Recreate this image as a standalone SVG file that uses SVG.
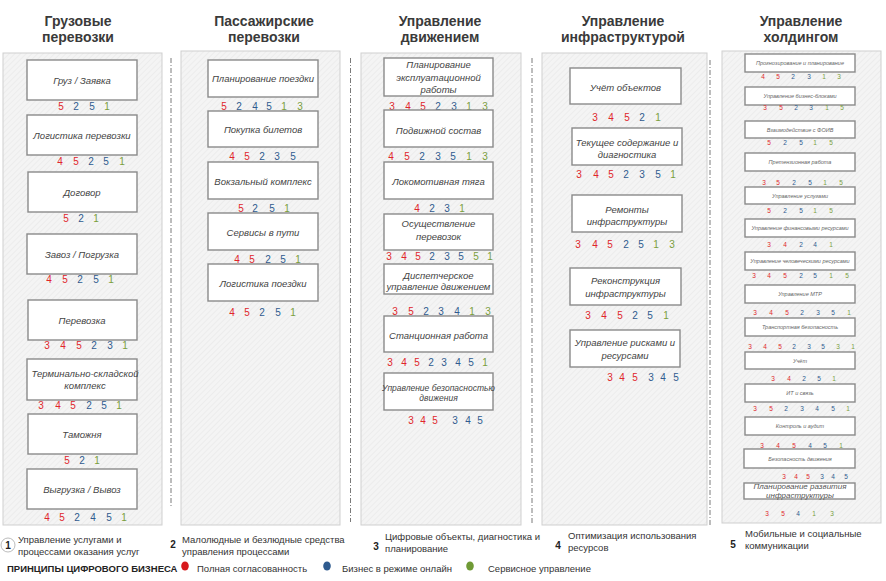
<svg xmlns="http://www.w3.org/2000/svg" width="886" height="581" viewBox="0 0 886 581">
<defs>
<pattern id="hatch" width="4" height="4" patternUnits="userSpaceOnUse" patternTransform="rotate(45)">
<rect width="4" height="4" fill="#f4f4f4"/>
<line x1="0" y1="0" x2="0" y2="4" stroke="#e4e4e4" stroke-width="1"/>
</pattern>
<style>
.panel{fill:url(#hatch);stroke:#cfcfcf;stroke-width:1}
.box{fill:#ffffff;stroke:#8a8a8a;stroke-width:1.4}
.title{font-family:"Liberation Sans",Arial,sans-serif;font-size:14px;font-weight:bold;fill:#3a3a3a;text-anchor:middle}
.lbl{font-family:"Liberation Sans",Arial,sans-serif;font-size:9.5px;font-style:italic;fill:#444;text-anchor:middle}
.lbl5{font-family:"Liberation Sans",Arial,sans-serif;font-size:5.5px;font-style:italic;fill:#666;text-anchor:middle}
.n{font-family:"Liberation Sans",Arial,sans-serif;font-size:10px;text-anchor:middle}
.n5{font-family:"Liberation Sans",Arial,sans-serif;font-size:6.5px;text-anchor:middle}
.r{fill:#e0262b}.b{fill:#2f5b8f}.g{fill:#7a9e3c}
.sep{stroke:#7a7a7a;stroke-width:1;stroke-dasharray:5 2 1 2;fill:none}
.leg{font-family:"Liberation Sans",Arial,sans-serif;font-size:9.5px;fill:#333}
.legn{font-family:"Liberation Sans",Arial,sans-serif;font-size:10px;font-weight:bold;fill:#222}
</style>
</defs>
<rect width="886" height="581" fill="#ffffff"/>

<g id="panels">
<rect class="panel" x="3" y="53" width="159" height="472"/>
<rect class="panel" x="181" y="51" width="159" height="474"/>
<rect class="panel" x="361" y="53" width="160" height="472"/>
<rect class="panel" x="542" y="53" width="165" height="472"/>
<rect class="panel" x="722" y="51" width="159" height="472"/>
</g>

<g id="titles">
<text class="title" x="78" y="26">Грузовые</text><text class="title" x="78" y="42">перевозки</text>
<text class="title" x="264" y="26">Пассажирские</text><text class="title" x="264" y="42">перевозки</text>
<text class="title" x="440" y="26">Управление</text><text class="title" x="440" y="42">движением</text>
<text class="title" x="623" y="26">Управление</text><text class="title" x="623" y="42">инфраструктурой</text>
<text class="title" x="801" y="26">Управление</text><text class="title" x="801" y="42">холдингом</text>
</g>

<g id="connectors">
<line class="sep" x1="171" y1="58" x2="171" y2="508"/>
<line class="sep" x1="350.5" y1="58" x2="350.5" y2="522"/>
<line class="sep" x1="532" y1="58" x2="532" y2="525"/>
<line class="sep" x1="710" y1="60" x2="710" y2="525"/>
</g>

<!-- Column 1 -->
<g id="c1n1"><rect class="box" x="27" y="60" width="110" height="40"/><text class="lbl" x="82" y="84">Груз / Заявка</text>
<text class="n" y="110"><tspan class="r" x="61">5</tspan><tspan class="b" x="76">2</tspan><tspan class="b" x="92">5</tspan><tspan class="g" x="107">1</tspan></text></g>
<g id="c1n2"><rect class="box" x="27" y="115" width="110" height="40"/><text class="lbl" x="82" y="139">Логистика перевозки</text>
<text class="n" y="165"><tspan class="r" x="60">4</tspan><tspan class="r" x="76">5</tspan><tspan class="b" x="91">2</tspan><tspan class="b" x="106">5</tspan><tspan class="g" x="122">1</tspan></text></g>
<g id="c1n3"><rect class="box" x="28" y="172" width="109" height="40"/><text class="lbl" x="82" y="196">Договор</text>
<text class="n" y="222"><tspan class="r" x="66">5</tspan><tspan class="b" x="81">2</tspan><tspan class="g" x="96">1</tspan></text></g>
<g id="c1n4"><rect class="box" x="27" y="234" width="110" height="40"/><text class="lbl" x="82" y="258">Завоз / Погрузка</text>
<text class="n" y="283"><tspan class="r" x="49">4</tspan><tspan class="r" x="65">5</tspan><tspan class="b" x="80">2</tspan><tspan class="b" x="96">5</tspan><tspan class="g" x="111">1</tspan></text></g>
<g id="c1n5"><rect class="box" x="28" y="300" width="109" height="40"/><text class="lbl" x="82" y="324">Перевозка</text>
<text class="n" y="349"><tspan class="r" x="47">3</tspan><tspan class="r" x="63">4</tspan><tspan class="r" x="79">5</tspan><tspan class="b" x="94">2</tspan><tspan class="b" x="110">3</tspan><tspan class="g" x="125">1</tspan></text></g>
<g id="c1n6"><rect class="box" x="27" y="359" width="110" height="41"/><text class="lbl" x="85" y="377">Терминально-складской</text><text class="lbl" x="85" y="389">комплекс</text>
<text class="n" y="409"><tspan class="r" x="41">3</tspan><tspan class="r" x="58">4</tspan><tspan class="r" x="73">5</tspan><tspan class="b" x="89">2</tspan><tspan class="b" x="104">5</tspan><tspan class="g" x="119">1</tspan></text></g>
<g id="c1n7"><rect class="box" x="28" y="414" width="109" height="40"/><text class="lbl" x="82" y="438">Таможня</text>
<text class="n" y="464"><tspan class="r" x="67">5</tspan><tspan class="b" x="82">2</tspan><tspan class="g" x="97">1</tspan></text></g>
<g id="c1n8"><rect class="box" x="27" y="469" width="110" height="40"/><text class="lbl" x="82" y="493">Выгрузка / Вывоз</text>
<text class="n" y="521"><tspan class="r" x="47">4</tspan><tspan class="r" x="62">5</tspan><tspan class="b" x="77">2</tspan><tspan class="b" x="93">4</tspan><tspan class="b" x="109">5</tspan><tspan class="g" x="124">1</tspan></text></g>

<!-- Column 2 -->
<g id="c2n1"><rect class="box" x="208" y="60" width="110" height="37"/><text class="lbl" x="263" y="82">Планирование поездки</text>
<text class="n" y="110"><tspan class="r" x="224">5</tspan><tspan class="b" x="239">2</tspan><tspan class="b" x="255">4</tspan><tspan class="b" x="269">5</tspan><tspan class="g" x="284">1</tspan><tspan class="g" x="300">3</tspan></text></g>
<g id="c2n2"><rect class="box" x="208" y="111" width="110" height="36"/><text class="lbl" x="263" y="133">Покупка билетов</text>
<text class="n" y="160"><tspan class="r" x="232">4</tspan><tspan class="r" x="247">5</tspan><tspan class="b" x="262">2</tspan><tspan class="b" x="277">3</tspan><tspan class="b" x="293">5</tspan></text></g>
<g id="c2n3"><rect class="box" x="208" y="162" width="110" height="37"/><text class="lbl" x="263" y="185">Вокзальный комплекс</text>
<text class="n" y="212"><tspan class="r" x="241">5</tspan><tspan class="b" x="255">2</tspan><tspan class="b" x="272">5</tspan><tspan class="g" x="287">1</tspan></text></g>
<g id="c2n4"><rect class="box" x="208" y="213" width="110" height="37"/><text class="lbl" x="263" y="236">Сервисы в пути</text>
<text class="n" y="263"><tspan class="r" x="237">4</tspan><tspan class="r" x="252">5</tspan><tspan class="b" x="268">2</tspan><tspan class="b" x="283">5</tspan><tspan class="g" x="298">1</tspan></text></g>
<g id="c2n5"><rect class="box" x="208" y="264" width="110" height="37"/><text class="lbl" x="263" y="287">Логистика поездки</text>
<text class="n" y="316"><tspan class="r" x="232">4</tspan><tspan class="r" x="247">5</tspan><tspan class="b" x="262">2</tspan><tspan class="b" x="278">5</tspan><tspan class="g" x="293">1</tspan></text></g>

<!-- Column 3 -->
<g id="c3n1"><rect class="box" x="384" y="58" width="109" height="38"/><text class="lbl" x="438.5" y="68">Планирование</text><text class="lbl" x="438.5" y="81">эксплуатационной</text><text class="lbl" x="438.5" y="93">работы</text>
<text class="n" y="110"><tspan class="r" x="392">3</tspan><tspan class="r" x="408">4</tspan><tspan class="r" x="423">5</tspan><tspan class="b" x="438">2</tspan><tspan class="b" x="454">3</tspan><tspan class="g" x="469">1</tspan><tspan class="g" x="485">3</tspan></text></g>
<g id="c3n2"><rect class="box" x="384" y="110" width="109" height="37"/><text class="lbl" x="438.5" y="134">Подвижной состав</text>
<text class="n" y="160"><tspan class="r" x="391">4</tspan><tspan class="r" x="407">5</tspan><tspan class="b" x="422">2</tspan><tspan class="b" x="438">3</tspan><tspan class="b" x="453">5</tspan><tspan class="g" x="469">1</tspan><tspan class="g" x="485">3</tspan></text></g>
<g id="c3n3"><rect class="box" x="384" y="162" width="109" height="37"/><text class="lbl" x="438.5" y="185">Локомотивная тяга</text>
<text class="n" y="212"><tspan class="r" x="417">4</tspan><tspan class="b" x="432">2</tspan><tspan class="b" x="447">3</tspan><tspan class="g" x="462">1</tspan></text></g>
<g id="c3n4"><rect class="box" x="384" y="214" width="109" height="36"/><text class="lbl" x="438.5" y="227">Осуществление</text><text class="lbl" x="438.5" y="240">перевозок</text>
<text class="n" y="260"><tspan class="r" x="389">3</tspan><tspan class="r" x="404">4</tspan><tspan class="r" x="418">5</tspan><tspan class="b" x="432">2</tspan><tspan class="b" x="447">3</tspan><tspan class="b" x="461">5</tspan><tspan class="g" x="476">5</tspan><tspan class="g" x="490">1</tspan></text></g>
<g id="c3n5"><rect class="box" x="384" y="264" width="109" height="30"/><text class="lbl" x="438.5" y="279">Диспетчерское</text><text class="lbl" x="438.5" y="290">управление движением</text>
<text class="n" y="315"><tspan class="r" x="395">3</tspan><tspan class="r" x="411">5</tspan><tspan class="b" x="426">2</tspan><tspan class="b" x="441">3</tspan><tspan class="b" x="457">4</tspan><tspan class="g" x="472">1</tspan><tspan class="g" x="488">3</tspan></text></g>
<g id="c3n6"><rect class="box" x="384" y="316" width="109" height="36"/><text class="lbl" x="438.5" y="339">Станционная работа</text>
<text class="n" y="366"><tspan class="r" x="390">3</tspan><tspan class="r" x="404">4</tspan><tspan class="r" x="417">5</tspan><tspan class="b" x="431">2</tspan><tspan class="b" x="444">3</tspan><tspan class="b" x="458">4</tspan><tspan class="b" x="471">5</tspan><tspan class="g" x="485">1</tspan></text></g>
<g id="c3n7"><rect class="box" x="384" y="373" width="109" height="37"/><text class="lbl" x="438.5" y="391" style="font-size:8.5px">Управление безопасностью</text><text class="lbl" x="438.5" y="401" style="font-size:8.5px">движения</text>
<text class="n" y="424"><tspan class="r" x="411">3</tspan><tspan class="r" x="423">4</tspan><tspan class="r" x="435">5</tspan><tspan class="b" x="455">3</tspan><tspan class="b" x="468">4</tspan><tspan class="b" x="480">5</tspan></text></g>

<!-- Column 4 -->
<g id="c4n1"><rect class="box" x="570" y="68" width="111" height="36"/><text class="lbl" x="625.5" y="91">Учёт объектов</text>
<text class="n" y="121"><tspan class="r" x="595">3</tspan><tspan class="r" x="611">4</tspan><tspan class="r" x="627">5</tspan><tspan class="b" x="642">2</tspan><tspan class="g" x="658">1</tspan></text></g>
<g id="c4n2"><rect class="box" x="572" y="128" width="110" height="37"/><text class="lbl" x="627" y="146">Текущее содержание и</text><text class="lbl" x="627" y="158">диагностика</text>
<text class="n" y="178"><tspan class="r" x="579">3</tspan><tspan class="r" x="596">4</tspan><tspan class="r" x="611">5</tspan><tspan class="b" x="626">2</tspan><tspan class="b" x="642">3</tspan><tspan class="b" x="658">5</tspan><tspan class="g" x="673">1</tspan></text></g>
<g id="c4n3"><rect class="box" x="572" y="195" width="110" height="37"/><text class="lbl" x="627" y="213">Ремонты</text><text class="lbl" x="627" y="225">инфраструктуры</text>
<text class="n" y="248"><tspan class="r" x="578">3</tspan><tspan class="r" x="595">4</tspan><tspan class="r" x="610">5</tspan><tspan class="b" x="626">2</tspan><tspan class="b" x="641">5</tspan><tspan class="g" x="656">1</tspan><tspan class="g" x="672">3</tspan></text></g>
<g id="c4n4"><rect class="box" x="570" y="268" width="111" height="37"/><text class="lbl" x="625.5" y="284">Реконструкция</text><text class="lbl" x="625.5" y="297">инфраструктуры</text>
<text class="n" y="319"><tspan class="r" x="588">3</tspan><tspan class="r" x="604">4</tspan><tspan class="r" x="620">5</tspan><tspan class="b" x="635">2</tspan><tspan class="b" x="650">5</tspan><tspan class="g" x="666">1</tspan></text></g>
<g id="c4n5"><rect class="box" x="570" y="330" width="110" height="37"/><text class="lbl" x="625" y="346">Управление рисками и</text><text class="lbl" x="625" y="359">ресурсами</text>
<text class="n" y="381"><tspan class="r" x="610">3</tspan><tspan class="r" x="622">4</tspan><tspan class="r" x="635">5</tspan><tspan class="b" x="651">3</tspan><tspan class="b" x="663">4</tspan><tspan class="b" x="676">5</tspan></text></g>

<!-- Column 5 -->
<g id="c5n1"><rect class="box" x="745" y="54" width="110" height="18"/><text class="lbl5" x="800" y="65">Прогнозирование  и  планирование</text>
<text class="n5" y="79"><tspan class="r" x="763">4</tspan><tspan class="r" x="778">5</tspan><tspan class="b" x="793">2</tspan><tspan class="b" x="809">3</tspan><tspan class="g" x="824">1</tspan><tspan class="g" x="839">3</tspan></text></g>
<g id="c5n2"><rect class="box" x="745" y="87" width="110" height="18"/><text class="lbl5" x="800" y="98">Управление  бизнес-блоками</text>
<text class="n5" y="110"><tspan class="r" x="765">3</tspan><tspan class="r" x="781">5</tspan><tspan class="b" x="796">2</tspan><tspan class="b" x="811">3</tspan><tspan class="g" x="827">1</tspan><tspan class="g" x="842">5</tspan></text></g>
<g id="c5n3"><rect class="box" x="745" y="121" width="110" height="17"/><text class="lbl5" x="800" y="131.5">Взаимодействие  с ФОИВ</text>
<text class="n5" y="145"><tspan class="r" x="769">5</tspan><tspan class="b" x="785">2</tspan><tspan class="b" x="801">5</tspan><tspan class="g" x="815">1</tspan><tspan class="g" x="831">5</tspan></text></g>
<g id="c5n4"><rect class="box" x="745" y="153" width="110" height="18"/><text class="lbl5" x="800" y="164">Претензионная  работа</text>
<text class="n5" y="185"><tspan class="r" x="764">3</tspan><tspan class="r" x="778">5</tspan><tspan class="b" x="794">2</tspan><tspan class="b" x="810">5</tspan><tspan class="g" x="825">1</tspan><tspan class="g" x="841">5</tspan></text></g>
<g id="c5n5"><rect class="box" x="745" y="187" width="110" height="17"/><text class="lbl5" x="800" y="197.5">Управление  услугами</text>
<text class="n5" y="213"><tspan class="r" x="769">5</tspan><tspan class="b" x="785">2</tspan><tspan class="b" x="801">5</tspan><tspan class="g" x="815">1</tspan><tspan class="g" x="831">5</tspan></text></g>
<g id="c5n6"><rect class="box" x="745" y="219" width="110" height="18"/><text class="lbl5" x="800" y="230">Управление  финансовыми  ресурсами</text>
<text class="n5" y="247"><tspan class="r" x="769">3</tspan><tspan class="r" x="785">4</tspan><tspan class="b" x="801">2</tspan><tspan class="b" x="815">4</tspan><tspan class="g" x="831">1</tspan></text></g>
<g id="c5n7"><rect class="box" x="745" y="252" width="110" height="18"/><text class="lbl5" x="800" y="263">Управление  человеческими  ресурсами</text>
<text class="n5" y="278"><tspan class="r" x="754">3</tspan><tspan class="r" x="769">4</tspan><tspan class="r" x="785">5</tspan><tspan class="b" x="801">2</tspan><tspan class="b" x="815">5</tspan><tspan class="g" x="831">1</tspan><tspan class="g" x="847">5</tspan></text></g>
<g id="c5n8"><rect class="box" x="745" y="285" width="110" height="18"/><text class="lbl5" x="800" y="296">Управление  МТР</text>
<text class="n5" y="315"><tspan class="r" x="755">3</tspan><tspan class="r" x="771">4</tspan><tspan class="r" x="787">5</tspan><tspan class="b" x="802">2</tspan><tspan class="b" x="818">3</tspan><tspan class="b" x="833">5</tspan><tspan class="g" x="849">1</tspan></text></g>
<g id="c5n9"><rect class="box" x="745" y="318" width="110" height="18"/><text class="lbl5" x="800" y="329">Транспортная  безопасность</text>
<text class="n5" y="349"><tspan class="r" x="750">3</tspan><tspan class="r" x="765">4</tspan><tspan class="r" x="780">5</tspan><tspan class="b" x="794">2</tspan><tspan class="b" x="809">3</tspan><tspan class="b" x="823">5</tspan><tspan class="g" x="838">3</tspan><tspan class="g" x="853">1</tspan></text></g>
<g id="c5n10"><rect class="box" x="745" y="352" width="110" height="17"/><text class="lbl5" x="800" y="362.5">Учёт</text>
<text class="n5" y="381"><tspan class="r" x="773">3</tspan><tspan class="r" x="789">4</tspan><tspan class="b" x="804">2</tspan><tspan class="b" x="819">5</tspan><tspan class="g" x="834">1</tspan></text></g>
<g id="c5n11"><rect class="box" x="745" y="384" width="110" height="18"/><text class="lbl5" x="800" y="395">ИТ и связь</text>
<text class="n5" y="411"><tspan class="r" x="755">3</tspan><tspan class="r" x="771">5</tspan><tspan class="b" x="786">2</tspan><tspan class="b" x="802">3</tspan><tspan class="b" x="817">4</tspan><tspan class="b" x="833">5</tspan><tspan class="g" x="848">1</tspan></text></g>
<g id="c5n12"><rect class="box" x="745" y="417" width="110" height="18"/><text class="lbl5" x="800" y="428">Контроль и аудит</text>
<text class="n5" y="448"><tspan class="r" x="762">3</tspan><tspan class="r" x="778">4</tspan><tspan class="r" x="794">5</tspan><tspan class="b" x="810">4</tspan><tspan class="b" x="825">5</tspan><tspan class="g" x="841">1</tspan></text></g>
<g id="c5n13"><rect class="box" x="744" y="449" width="111" height="19"/><text class="lbl5" x="800" y="461">Безопасность  движения</text>
<text class="n5" y="479"><tspan class="r" x="784">3</tspan><tspan class="r" x="796">4</tspan><tspan class="r" x="808">5</tspan><tspan class="b" x="822">3</tspan><tspan class="b" x="833">4</tspan><tspan class="b" x="846">5</tspan></text></g>
<g id="c5n14"><rect class="box" x="744" y="483" width="111" height="16"/><text class="lbl" x="800" y="489" style="font-size:8px;fill:#555">Планирование развития</text><text class="lbl" x="800" y="498" style="font-size:8px;fill:#555">инфраструктуры</text>
<text class="n5" y="516"><tspan class="r" x="767">3</tspan><tspan class="r" x="783">5</tspan><tspan class="b" x="798">4</tspan><tspan class="g" x="814">1</tspan><tspan class="g" x="832">3</tspan></text></g>

<!-- Legend -->
<g id="legend">
<circle cx="8" cy="545" r="7" fill="#fff" stroke="#aaa" stroke-width="0.8"/>
<text class="legn" x="8" y="548.5" text-anchor="middle">1</text>
<text class="leg" x="18" y="543">Управление услугами и</text>
<text class="leg" x="18" y="555">процессами оказания услуг</text>
<text class="legn" x="7" y="572" style="font-size:9.5px">ПРИНЦИПЫ ЦИФРОВОГО БИЗНЕСА</text>
<text class="legn" x="173" y="548" text-anchor="middle">2</text>
<text class="leg" x="182" y="543">Малолюдные и безлюдные средства</text>
<text class="leg" x="182" y="555">управления процессами</text>
<text class="legn" x="376" y="550" text-anchor="middle">3</text>
<text class="leg" x="385" y="540">Цифровые объекты, диагностика и</text>
<text class="leg" x="385" y="552">планирование</text>
<text class="legn" x="558" y="549" text-anchor="middle">4</text>
<text class="leg" x="568" y="539">Оптимизация использования</text>
<text class="leg" x="568" y="551">ресурсов</text>
<text class="legn" x="733" y="548" text-anchor="middle">5</text>
<text class="leg" x="745" y="537">Мобильные и социальные</text>
<text class="leg" x="745" y="549">коммуникации</text>
<ellipse cx="185" cy="566" rx="3.8" ry="4.5" fill="#d7191c"/>
<text class="leg" x="197" y="572">Полная согласованность</text>
<ellipse cx="327" cy="566" rx="3.8" ry="4.5" fill="#2f5b8f"/>
<text class="leg" x="342" y="572">Бизнес в режиме онлайн</text>
<ellipse cx="470" cy="566" rx="3.8" ry="4.5" fill="#6f9a35"/>
<text class="leg" x="488" y="572">Сервисное управление</text>
</g>
</svg>
